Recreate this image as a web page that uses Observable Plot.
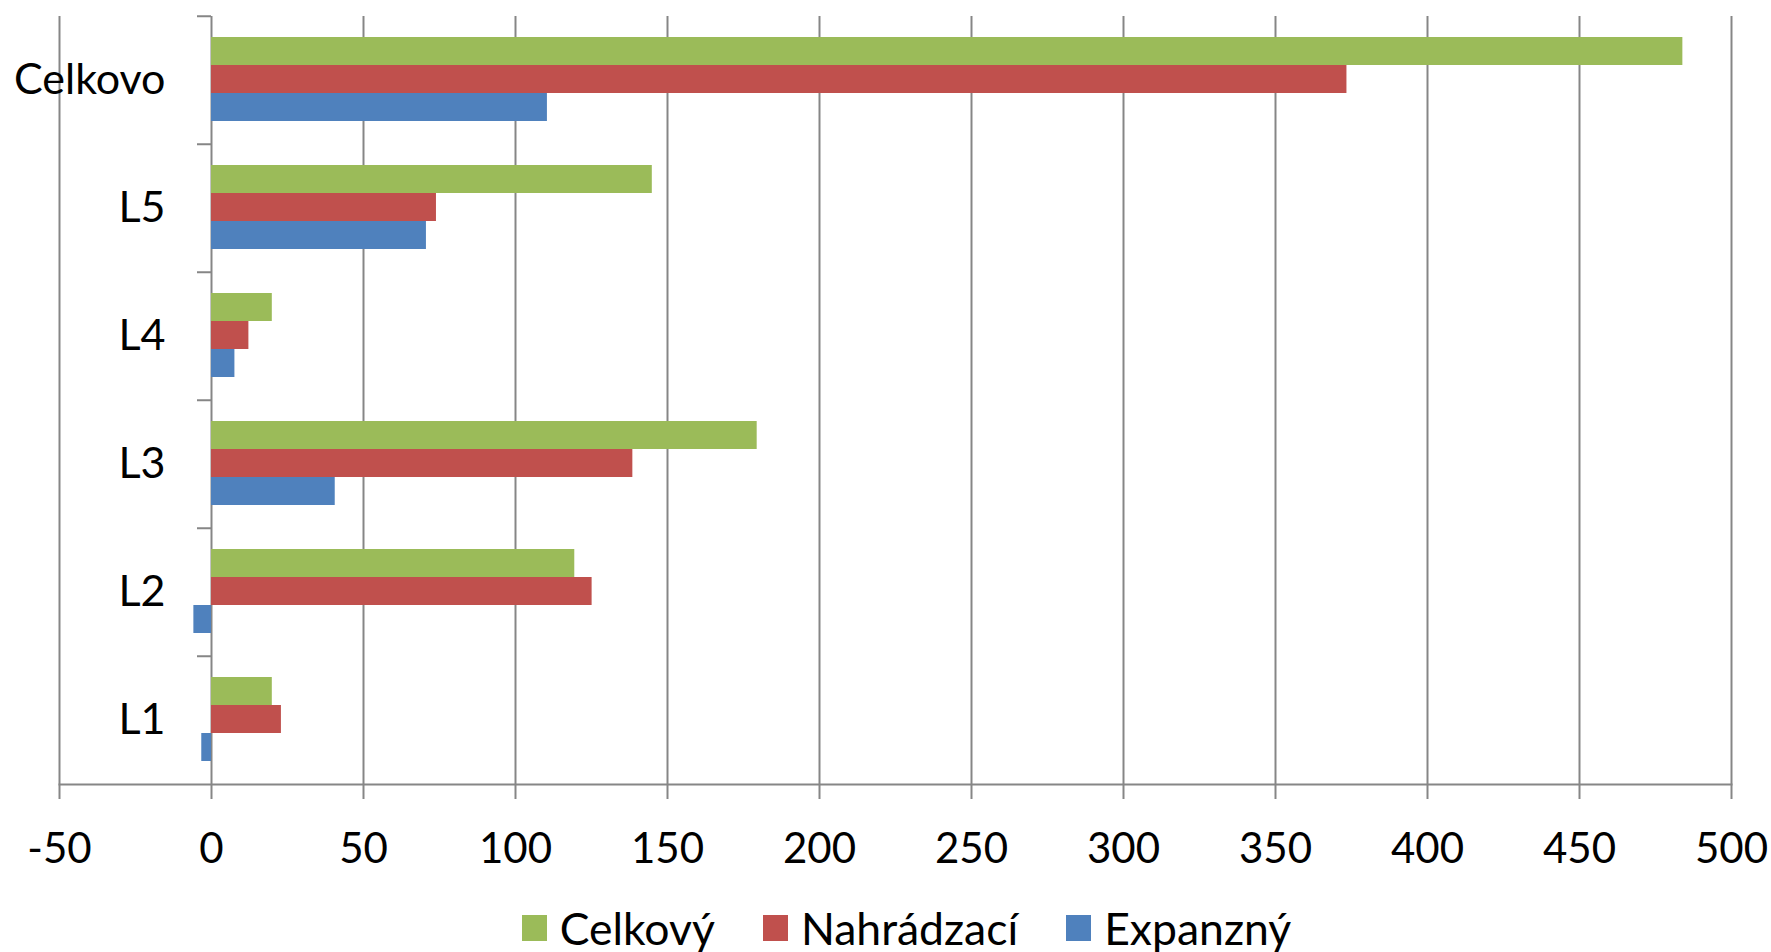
<!DOCTYPE html>
<html>
<head>
<meta charset="utf-8">
<script src="https://cdn.jsdelivr.net/npm/d3@7"></script>
<script src="https://cdn.jsdelivr.net/npm/@observablehq/plot@0.6"></script>
<style>
  html, body { margin: 0; padding: 0; background: #fff; }
  body { width: 1771px; height: 952px; overflow: hidden; font-family: Lato, "Open Sans", sans-serif; }
  #legend { display: flex; justify-content: center; align-items: center; height: 45px; margin-top: 20px; padding-left: 42px; font-size: 44.5px; color: #000; }
  .item { display: flex; align-items: center; margin: 0 24px; }
  .sw { width: 25px; height: 26px; margin-right: 13px; }
</style>
</head>
<body>
<div id="chart"></div>
<div id="legend"></div>
<script>
const categories = ["Celkovo", "L5", "L4", "L3", "L2", "L1"];
const series = ["Celkový", "Nahrádzací", "Expanzný"];
const celkovy = [484, 145, 20, 179.5, 119.5, 20];
const nahradzaci = [373.5, 74, 12.3, 138.6, 125.2, 23];
const expanzny = [110.5, 70.7, 7.7, 40.7, -5.8, -3.2];
const xTicks = [-50, 0, 50, 100, 150, 200, 250, 300, 350, 400, 450, 500];
const colors = ["#9BBB59", "#C0504D", "#4F81BD"];

const values = [celkovy, nahradzaci, expanzny];
const data = [];
categories.forEach((c, i) => series.forEach((s, j) => data.push({cat: c, series: s, value: values[j][i]})));

const W = 1771, H = 885, mL = 59, mR = 40, mT = 14, mB = 100;
const xScale = Plot.scale({x: {domain: [-50, 500], range: [mL, W - mR]}});
const zeroOffset = xScale.apply(0) - mL;
const band = (H - mT - mB) / categories.length;
const gridColor = "#868686";

const plot = Plot.plot({
  width: W, height: H,
  marginLeft: mL, marginRight: mR, marginTop: mT, marginBottom: mB,
  style: {fontFamily: "Lato, 'Open Sans', sans-serif", fontSize: "42px", color: "#000", background: "#fff"},
  x: {domain: [-50, 500]},
  y: {domain: series, axis: null, paddingInner: 0, paddingOuter: 0.75, align: 0.48},
  fy: {domain: categories, padding: 0, axis: null},
  color: {domain: series, range: colors},
  marks: [
    Plot.gridX(xTicks, {stroke: gridColor, strokeOpacity: 1, strokeWidth: 2}),
    Plot.barX(data, {fy: "cat", y: "series", x: "value", fill: "series"}),
    Plot.axisX(xTicks, {tickSize: 15, tickPadding: 34, stroke: gridColor, strokeWidth: 2, fontSize: 42, fill: "#000", label: null, tickFormat: d => String(d)}),
    Plot.frame({anchor: "bottom", facet: "super", stroke: gridColor, strokeWidth: 2}),
    Plot.axisFy({anchor: "left", tickSize: 14, dx: zeroOffset, dy: -band / 2, stroke: gridColor, strokeWidth: 2, tickFormat: () => "", label: null}),
    Plot.text(categories, {fy: d => d, x: () => 0, text: d => d, dx: -46, textAnchor: "end", fontSize: 43, fill: "#000"})
  ]
});
document.getElementById("chart").appendChild(plot);

const legend = document.getElementById("legend");
series.forEach((s, j) => {
  const it = document.createElement("div");
  it.className = "item";
  const sw = document.createElement("div");
  sw.className = "sw";
  sw.style.background = colors[j];
  const t = document.createElement("span");
  t.textContent = s;
  it.appendChild(sw); it.appendChild(t);
  legend.appendChild(it);
});
</script>
</body>
</html>
